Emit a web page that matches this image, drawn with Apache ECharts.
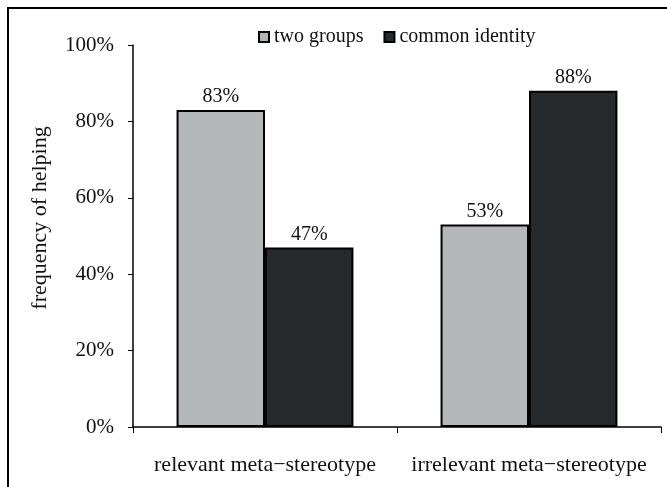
<!DOCTYPE html>
<html>
<head>
<meta charset="utf-8">
<script src="https://cdn.jsdelivr.net/npm/echarts@6/dist/echarts.min.js"></script>
<style>
  html, body { margin: 0; padding: 0; background: #fff; }
  #chart { width: 667px; height: 487px; }
</style>
</head>
<body>
<div id="chart"></div>
<script>
// Helping frequency by meta-stereotype condition
const categories = ['relevant meta\u2212stereotype', 'irrelevant meta\u2212stereotype'];
const twoGroups = [83, 53];
const commonIdentity = [47, 88];
const yTicks = [0, 20, 40, 60, 80, 100];

const font = 'Liberation Serif, Times New Roman, serif';
const chart = echarts.init(document.getElementById('chart'));

const barLabel = {
  show: true,
  position: 'top',
  distance: 3,
  formatter: p => p.value + '%',
  fontFamily: font,
  fontSize: 20,
  color: '#111'
};

chart.setOption({
  animation: false,
  backgroundColor: '#fff',
  graphic: [{
    type: 'rect',
    shape: { x: 8, y: 8, width: 700, height: 520 },
    style: { fill: 'none', stroke: '#000', lineWidth: 2 },
    silent: true
  }],
  legend: {
    top: 22,
    left: 253,
    itemWidth: 10,
    itemHeight: 10,
    itemGap: 20,
    icon: 'rect',
    itemStyle: { borderColor: '#000', borderWidth: 2 },
    textStyle: { fontFamily: font, fontSize: 20, color: '#111' },
    data: ['two groups', 'common identity']
  },
  grid: { left: 133, right: 6, top: 45, bottom: 60 },
  xAxis: {
    type: 'category',
    data: categories,
    axisLine: { lineStyle: { color: '#000', width: 1.5 } },
    axisTick: { show: true, length: 6, lineStyle: { color: '#000' } },
    axisLabel: { interval: 0, hideOverlap: false, fontFamily: font, fontSize: 22, color: '#111', margin: 27 }
  },
  yAxis: {
    type: 'value',
    min: yTicks[0],
    max: yTicks[yTicks.length - 1],
    interval: 20,
    name: 'frequency of helping',
    nameLocation: 'middle',
    nameGap: 82,
    nameMoveOverlap: false,
    nameTextStyle: { fontFamily: font, fontSize: 22, color: '#111', padding: [0, 0, 0, 36] },
    splitLine: { show: false },
    axisLine: { show: true, lineStyle: { color: '#000', width: 1.5 } },
    axisTick: { show: true, length: 5, lineStyle: { color: '#000' } },
    axisLabel: { fontFamily: font, fontSize: 21, color: '#111', margin: 19, formatter: v => v + '%' }
  },
  series: [
    {
      name: 'two groups',
      type: 'bar',
      data: twoGroups,
      barGap: '0%',
      barCategoryGap: '33%',
      itemStyle: { color: '#b5b8b8', borderColor: '#000', borderWidth: 2 },
      label: barLabel
    },
    {
      name: 'common identity',
      type: 'bar',
      data: commonIdentity,
      itemStyle: { color: '#272a2d', borderColor: '#000', borderWidth: 2 },
      label: barLabel
    }
  ]
});
</script>
</body>
</html>
